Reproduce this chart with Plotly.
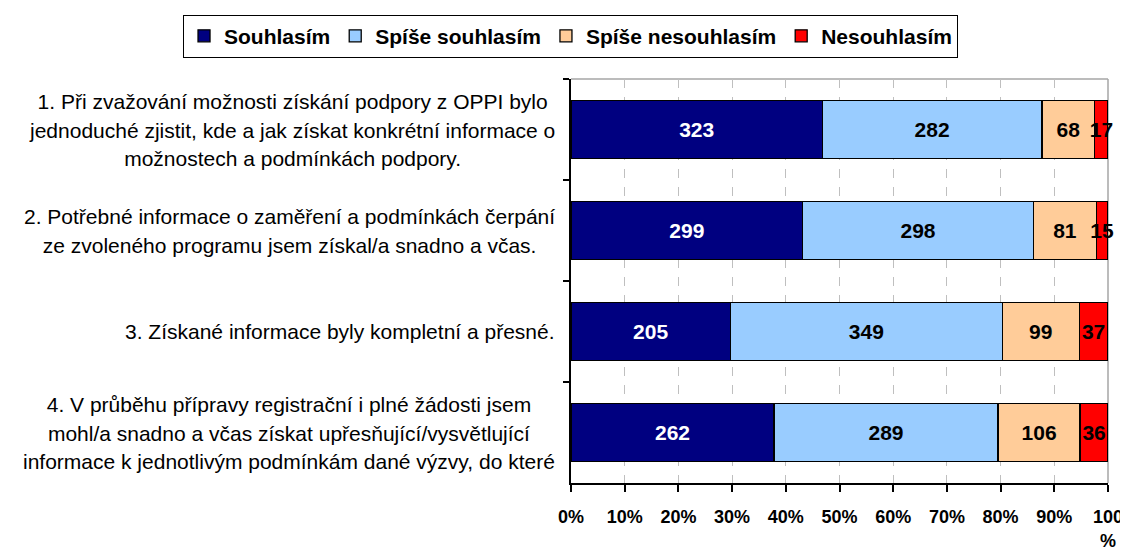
import plotly.graph_objects as go

categories = ["Q1", "Q2", "Q3", "Q4"]
label_lines = [
    ["1. Při zvažování možnosti získání podpory z OPPI bylo",
     "jednoduché zjistit, kde a jak získat konkrétní informace o",
     "možnostech a podmínkách podpory."],
    ["2. Potřebné informace o zaměření a podmínkách čerpání",
     "ze zvoleného programu jsem získal/a snadno a včas."],
    ["3. Získané informace byly kompletní a přesné."],
    ["4. V průběhu přípravy registrační i plné žádosti jsem",
     "mohl/a snadno a včas získat upřesňující/vysvětlující",
     "informace k jednotlivým podmínkám dané výzvy, do které"],
]
series_names = ["Souhlasím", "Spíše souhlasím", "Spíše nesouhlasím", "Nesouhlasím"]
souhlasim = [323, 299, 205, 262]
spise_souhlasim = [282, 298, 349, 289]
spise_nesouhlasim = [68, 81, 99, 106]
nesouhlasim = [17, 15, 37, 36]
tick_vals = [0, 10, 20, 30, 40, 50, 60, 70, 80, 90, 100]
tick_text = ["0%", "10%", "20%", "30%", "40%", "50%", "60%", "70%", "80%", "90%", "100<br>%"]

series_values = [souhlasim, spise_souhlasim, spise_nesouhlasim, nesouhlasim]
colors = ["#000080", "#99CCFF", "#FFCC99", "#FF0000"]
text_colors = ["white", "black", "black", "black"]

FONT = "Liberation Sans, Arial, sans-serif"

fig = go.Figure()
for name, vals, col, tcol in zip(series_names, series_values, colors, text_colors):
    fig.add_trace(go.Bar(
        name=name, y=categories, x=vals, orientation="h",
        marker=dict(color=col, line=dict(color="black", width=1.3)),
        text=[str(v) for v in vals], textposition="inside", textangle=0,
        insidetextanchor="middle", constraintext="none",
        textfont=dict(family=FONT, size=21, color=tcol, weight="bold"),
        cliponaxis=False, hoverinfo="skip",
    ))

annotations = []
for cat, lines in zip(categories, label_lines):
    inner = "<br>".join('<span style="font-size:21px">%s</span>' % l for l in lines)
    annotations.append(dict(
        xref="paper", yref="y", x=0, y=cat, xanchor="right", yanchor="middle",
        xshift=-14, text=inner, showarrow=False, align="center",
        font=dict(family=FONT, size=22, color="black"),
    ))

# page body adds an 8px offset, so the figure is drawn 8px right/down
fig.update_layout(
    width=1120, height=543,
    margin=dict(l=563, r=20, t=71, b=68, autoexpand=False),
    barmode="stack", barnorm="percent", bargap=0.42,
    paper_bgcolor="white", plot_bgcolor="white",
    font=dict(family=FONT, color="black"),
    showlegend=True,
    legend=dict(
        orientation="h",
        x=-0.7225, xanchor="left", y=1.106, yanchor="middle",
        bordercolor="black", borderwidth=1, bgcolor="white",
        font=dict(family=FONT, size=21, color="black", weight="bold"),
        traceorder="normal", itemclick=False, itemdoubleclick=False,
        itemwidth=30, tracegroupgap=0,
    ),
    xaxis=dict(
        range=[0, 100], tickvals=tick_vals, ticktext=tick_text,
        showgrid=True, gridcolor="#BFBFBF", griddash="dash", gridwidth=1,
        showline=True, linecolor="black", linewidth=1.5,
        ticks="outside", ticklen=7, tickcolor="black", tickwidth=1.5,
        tickfont=dict(family=FONT, size=18, color="black", weight="bold"),
        ticklabelstandoff=10, ticklabeloverflow="allow",
        zeroline=False, fixedrange=True,
    ),
    yaxis=dict(
        categoryorder="array", categoryarray=categories, autorange="reversed",
        showticklabels=False, tickson="boundaries",
        ticks="outside", ticklen=6, tickcolor="black", tickwidth=1.5,
        showline=True, linecolor="black", linewidth=1.5,
        showgrid=False, zeroline=False, fixedrange=True,
    ),
    annotations=annotations,
    shapes=[
        dict(type="line", xref="paper", yref="paper", x0=0, x1=1, y0=1, y1=1,
             line=dict(color="#A6A6A6", width=1.5), layer="below"),
        dict(type="line", xref="paper", yref="paper", x0=1, x1=1, y0=0, y1=1,
             line=dict(color="#A6A6A6", width=1.5), layer="below"),
    ],
)

fig.write_html("out.html")
